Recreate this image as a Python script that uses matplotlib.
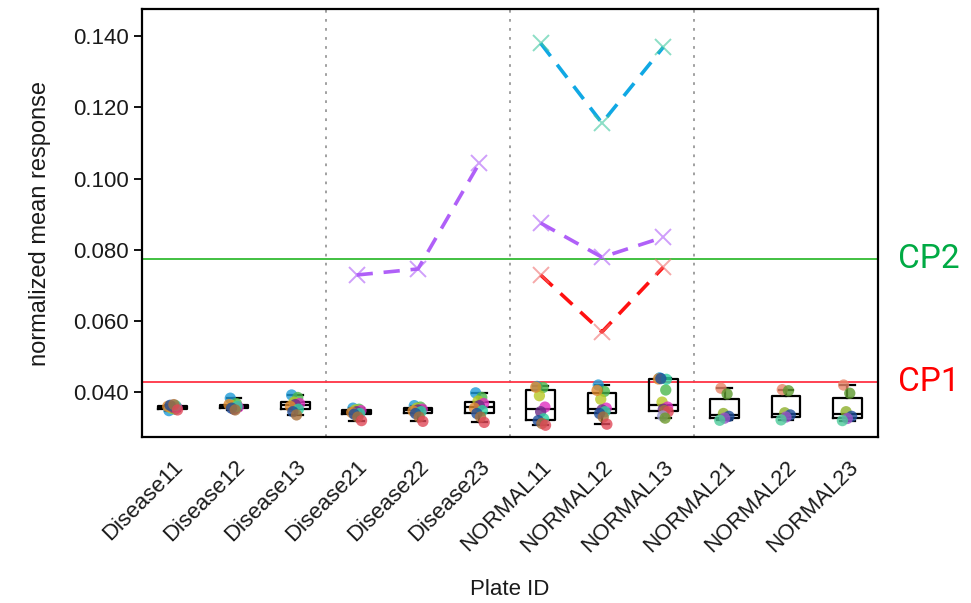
import numpy as np
import matplotlib.pyplot as plt

plates = ['Disease11', 'Disease12', 'Disease13', 'Disease21', 'Disease22', 'Disease23',
          'NORMAL11', 'NORMAL12', 'NORMAL13', 'NORMAL21', 'NORMAL22', 'NORMAL23']

# per-plate well responses
d11 = [0.0348, 0.0352, 0.0355, 0.0357, 0.0358, 0.0360, 0.0362, 0.0363, 0.0365, 0.0350]
d12 = [0.0383, 0.0368, 0.0362, 0.0358, 0.0352, 0.0365, 0.0360, 0.0355, 0.0350]
d13 = [0.0392, 0.0385, 0.0372, 0.0368, 0.0365, 0.0360, 0.0352, 0.0345, 0.0336]
d21 = [0.0355, 0.0352, 0.0350, 0.0348, 0.0345, 0.0343, 0.0340, 0.0338, 0.0330, 0.0320]
d22 = [0.0362, 0.0358, 0.0355, 0.0352, 0.0350, 0.0347, 0.0345, 0.0340, 0.0330, 0.0318]
d23 = [0.0398, 0.0385, 0.0375, 0.0368, 0.0362, 0.0355, 0.0348, 0.0340, 0.0330, 0.0315]
n11 = [0.0416, 0.0413, 0.0390, 0.0358, 0.0345, 0.0414, 0.0325, 0.0320, 0.0312, 0.0307]
n12 = [0.0420, 0.0402, 0.0380, 0.0355, 0.0350, 0.0405, 0.0345, 0.0340, 0.0330, 0.0310]
n13 = [0.0440, 0.0406, 0.0372, 0.0358, 0.0352, 0.0437, 0.0436, 0.0438, 0.0348, 0.0345, 0.0333, 0.0327]
n21 = [0.0411, 0.0395, 0.0340, 0.0332, 0.0327, 0.0321]
n22 = [0.0407, 0.0404, 0.0342, 0.0336, 0.0330, 0.0322]
n23 = [0.0420, 0.0397, 0.0345, 0.0332, 0.0326, 0.0320]
wells = [d11, d12, d13, d21, d22, d23, n11, n12, n13, n21, n22, n23]

well_colors = ['#1F9BD7', '#4CB84C', '#B8C825', '#E030C0', '#6B2D86', '#E08A2E',
               '#2ED3A0', '#1F4E9A', '#A8703A', '#E04858', '#9A9AD0', '#6E9A2C']
norm_colors = ['#E8866A', '#5E9A30', '#8DB02A', '#1F4E9A', '#9A55C8', '#4CCB9A']

# outlier plates (mean response per flagged compound)
purple_x = [4, 5, 6]
purple_y = [0.0729, 0.0746, 0.1043]
purple2_x = [7, 8, 9]
purple2_y = [0.0875, 0.0779, 0.0835]
blue_x = [7, 8, 9]
blue_y = [0.1380, 0.1156, 0.1369]
red_x = [7, 8, 9]
red_y = [0.0729, 0.0569, 0.0751]

cp1 = 0.0429
cp2 = 0.0775

plt.rcParams['font.family'] = ['Liberation Sans', 'DejaVu Sans']

fig = plt.figure(figsize=(9.71, 6.03), dpi=100)
ax = fig.add_axes([0.1462, 0.2753, 0.758, 0.7097])

pos = np.arange(1, len(plates) + 1)
ax.boxplot(wells, positions=pos, widths=0.47, whis=(0, 100), showfliers=False,
           boxprops=dict(color='black', lw=1.6), medianprops=dict(color='black', lw=1.6),
           whiskerprops=dict(color='black', lw=1.6), capprops=dict(color='black', lw=1.6),
           zorder=2)

jit = [-0.06, 0.04, -0.02, 0.07, 0.0, -0.08, 0.05, -0.04, 0.02, 0.08, -0.01, 0.03]
for i, vals in enumerate(wells):
    cols = norm_colors if i >= 9 else well_colors
    for j, v in enumerate(vals):
        ax.scatter(pos[i] + jit[j % len(jit)], v, s=66, color=cols[j % len(cols)],
                   alpha=0.8, edgecolors='none', zorder=3)

for sx in [3.5, 6.5, 9.5]:
    ax.axvline(sx, color='#999999', lw=1.3, ls=(0, (1.5, 3.5)), zorder=1)

ax.axhline(cp1, color='#FF3344', lw=1.3, zorder=1)
ax.axhline(cp2, color='#33BB33', lw=1.3, zorder=1)

dash = (0, (4.5, 3))
ax.plot(purple_x, purple_y, color='#B060F8', lw=2.6, ls=dash, zorder=4)
ax.plot(purple_x, purple_y, 'x', color='#B060F8', ms=11, mew=1.4, alpha=0.6, zorder=5)
ax.plot(purple2_x, purple2_y, color='#B060F8', lw=2.6, ls=dash, zorder=4)
ax.plot(purple2_x, purple2_y, 'x', color='#B060F8', ms=11, mew=1.4, alpha=0.6, zorder=5)
ax.plot(blue_x, blue_y, color='#10A8E4', lw=2.6, ls=dash, zorder=4)
ax.plot(blue_x, blue_y, 'x', color='#40C8A0', ms=11, mew=1.4, alpha=0.6, zorder=5)
ax.plot(red_x, red_y, color='#FF1010', lw=2.6, ls=dash, zorder=4)
ax.plot(red_x, red_y, 'x', color='#F07070', ms=11, mew=1.4, alpha=0.6, zorder=5)

ax.set_xlim(0.5, 12.5)
ax.set_ylim(0.0274, 0.1476)
ax.set_yticks([0.04, 0.06, 0.08, 0.10, 0.12, 0.14])
ax.set_yticklabels(['0.040', '0.060', '0.080', '0.100', '0.120', '0.140'])
ax.set_xticks(pos)
ax.set_xticklabels(plates, rotation=45, ha='right', va='top', rotation_mode='anchor')
ax.tick_params(axis='x', length=0, pad=14, labelsize=16, labelcolor='#1a1a1a')
ax.tick_params(axis='y', length=6, width=1.3, labelsize=16, labelcolor='#1a1a1a')
for sp in ax.spines.values():
    sp.set_linewidth(1.6)

ax.set_ylabel('normalized mean response', fontsize=17, color='#1a1a1a', labelpad=16)
ax.set_xlabel('Plate ID', fontsize=16, color='#1a1a1a', labelpad=16)

ax.text(1.027, cp2, 'CP2', transform=ax.get_yaxis_transform(), color='#00AA44',
        fontsize=24, family='Roboto', va='center', ha='left')
ax.text(1.027, cp1, 'CP1', transform=ax.get_yaxis_transform(), color='#FF0000',
        fontsize=24, family='Roboto', va='center', ha='left')

fig.savefig('out.png', dpi=100)
